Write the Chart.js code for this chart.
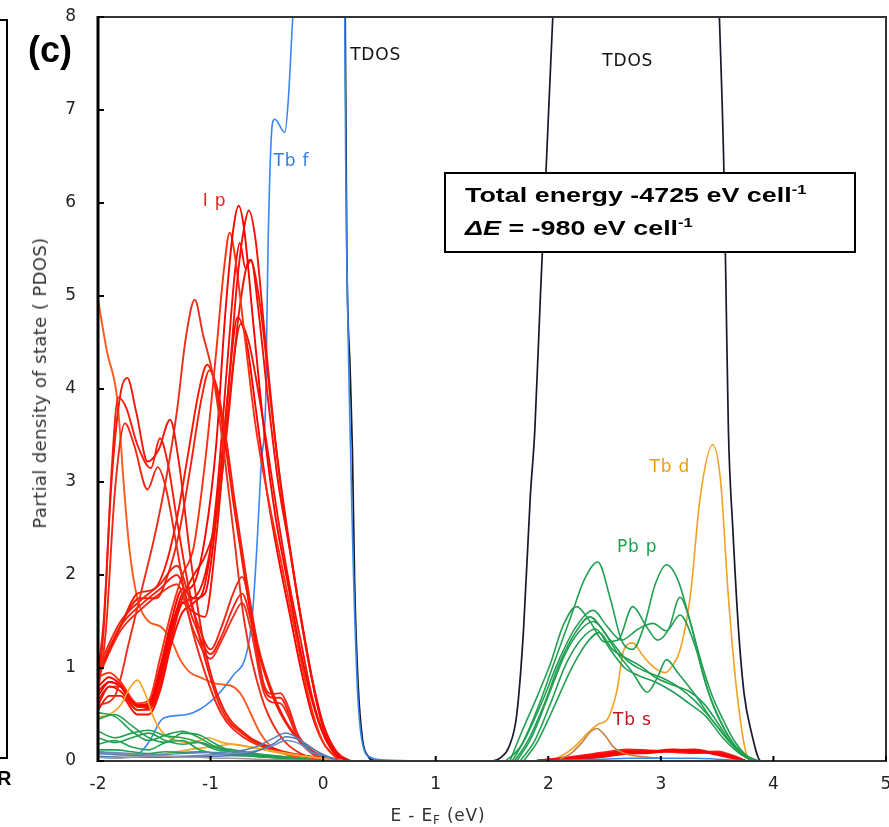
<!DOCTYPE html>
<html>
<head>
<meta charset="utf-8">
<script src="https://cdn.jsdelivr.net/npm/chart.js@4.4.1/dist/chart.umd.min.js"></script>
<style>
  html, body { margin: 0; padding: 0; background: #fff; }
  #wrap { position: relative; width: 889px; height: 827px; overflow: hidden; }
  #chart { position: absolute; left: 0; top: 0; }
  .txt { position: absolute; white-space: nowrap; font-family: "DejaVu Sans", sans-serif; color: #222; line-height: 1; }
  #leftPanel { position: absolute; left: -20px; top: 19px; width: 24px; height: 736px; border: 2px solid #000; }
  #letterR { left: -3px; top: 767px; font: bold 20px "Liberation Sans", Arial, sans-serif; color: #000; }
  #letterC { left: 28px; top: 29px; font: bold 36px "Liberation Sans", Arial, sans-serif; color: #000; }
  #titleY { left: 40px; top: 383px; font-size: 18px; letter-spacing: 0.4px; color: #333;
            transform: translate(-50%, -50%) rotate(-90deg); }
  #titleX { left: 438px; top: 815px; font-size: 17px; letter-spacing: 0.8px; color: #333;
            transform: translate(-50%, -50%); }
  #titleX sub { font-size: 12px; vertical-align: -3px; line-height: 0; }
  #box { position: absolute; left: 444px; top: 172px; width: 389px; height: 73px; padding: 4px 0 0 19px;
         border: 2px solid #000; background: #fff; color: #000;
         font: bold 21px "Liberation Sans", Arial, sans-serif; }
  #box div { height: 33px; line-height: 33px; white-space: nowrap; transform: scaleX(1.28); transform-origin: 0 50%; }
  #box sup { font-size: 13px; vertical-align: 8px; line-height: 0; }
</style>
</head>
<body>
<div id="wrap">
  <canvas id="chart" width="889" height="827"></canvas>
  <div id="leftPanel"></div>
  <div class="txt" id="letterR">R</div>
  <div class="txt" id="letterC">(c)</div>
  <div class="txt" id="titleY">Partial density of state ( PDOS)</div>
  <div class="txt" id="titleX">E - E<sub>F</sub> (eV)</div>
  <div id="box">
    <div>Total energy -4725 eV cell<sup>-1</sup></div>
    <div><i>ΔE</i> = -980 eV cell<sup>-1</sup></div>
  </div>
</div>

<script>
// ---- I p (red) ----
const ip1Energy = [-2, -1.95, -1.88, -1.8, -1.74, -1.66, -1.56, -1.46, -1.36, -1.28, -1.18, -1.05, -0.9, -0.7, -0.4, 0];
const ip1Pdos   = [0.95, 1.5, 3.0, 3.95, 4.12, 3.75, 3.22, 3.35, 3.67, 3.2, 2.2, 1.2, 0.6, 0.3, 0.12, 0.03];
const ip2Energy = [-2, -1.95, -1.88, -1.82, -1.75, -1.65, -1.53, -1.45, -1.38, -1.3, -1.2, -1.05, -0.9, -0.7, -0.4, 0];
const ip2Pdos   = [0.85, 1.4, 3.1, 3.91, 3.8, 3.4, 3.15, 3.47, 3.2, 2.6, 1.9, 1.1, 0.55, 0.28, 0.1, 0.02];
const ip3Energy = [-2, -1.93, -1.85, -1.76, -1.68, -1.56, -1.47, -1.4, -1.3, -1.2, -1.05, -0.9, -0.7, -0.4, 0];
const ip3Pdos   = [0.75, 1.4, 2.9, 3.63, 3.4, 2.92, 3.16, 2.95, 2.3, 1.6, 0.95, 0.5, 0.25, 0.1, 0.02];
const ip4Energy = [-2, -1.85, -1.72, -1.6, -1.5, -1.4, -1.3, -1.22, -1.14, -1.07, -0.98, -0.9, -0.8, -0.7, -0.55, -0.4, -0.2, 0.1];
const ip4Pdos   = [0.6, 0.7, 1.3, 1.9, 2.4, 3.0, 3.75, 4.55, 4.96, 4.6, 4.15, 3.5, 2.5, 1.5, 0.7, 0.3, 0.08, 0];
const ip5Energy = [-2, -1.8, -1.65, -1.5, -1.4, -1.3, -1.2, -1.1, -1.03, -0.96, -0.88, -0.8, -0.7, -0.6, -0.45, -0.3, -0.1, 0.15];
const ip5Pdos   = [0.95, 1.45, 1.8, 1.85, 2.1, 2.6, 3.3, 4.0, 4.26, 4.05, 3.5, 2.8, 2.0, 1.3, 0.7, 0.35, 0.1, 0];
const ip6Energy = [-2, -1.78, -1.63, -1.48, -1.38, -1.28, -1.18, -1.08, -1.01, -0.94, -0.86, -0.78, -0.68, -0.58, -0.43, -0.28, -0.08, 0.17];
const ip6Pdos   = [0.9, 1.5, 1.75, 1.75, 2.0, 2.45, 3.15, 3.9, 4.2, 4.0, 3.45, 2.75, 1.95, 1.25, 0.68, 0.33, 0.1, 0];
const ip7Energy = [-2, -1.9, -1.8, -1.65, -1.55, -1.45, -1.35, -1.25, -1.15, -1.05, -0.95, -0.87, -0.8, -0.75, -0.7, -0.62, -0.52, -0.42, -0.32, -0.22, -0.12, -0.02, 0.1, 0.22];
const ip7Pdos   = [0.7, 0.85, 0.8, 0.6, 0.6, 0.9, 1.4, 1.8, 1.9, 2.4, 3.4, 4.8, 5.7, 5.97, 5.7, 4.7, 3.5, 2.6, 1.95, 1.3, 0.75, 0.35, 0.08, 0];
const ip8Energy = [-2, -1.9, -1.8, -1.65, -1.55, -1.45, -1.35, -1.25, -1.15, -1.05, -0.95, -0.85, -0.76, -0.7, -0.66, -0.6, -0.52, -0.42, -0.32, -0.22, -0.12, 0, 0.12, 0.24];
const ip8Pdos   = [0.6, 0.8, 0.75, 0.55, 0.55, 0.8, 1.3, 1.7, 1.75, 2.0, 2.7, 3.9, 5.2, 5.75, 5.92, 5.6, 4.6, 3.4, 2.5, 1.7, 1.0, 0.35, 0.08, 0];
const ip9Energy = [-2, -1.9, -1.8, -1.65, -1.55, -1.45, -1.35, -1.25, -1.15, -1.05, -0.95, -0.88, -0.83, -0.78, -0.7, -0.6, -0.5, -0.4, -0.3, -0.2, -0.1, 0, 0.15];
const ip9Pdos   = [0.9, 0.95, 0.85, 0.62, 0.65, 1.1, 1.6, 2.0, 2.3, 3.2, 4.4, 5.3, 5.68, 5.4, 4.6, 3.6, 2.9, 2.3, 1.7, 1.1, 0.55, 0.2, 0];
const ip10Energy = [-2, -1.9, -1.8, -1.65, -1.55, -1.45, -1.35, -1.25, -1.15, -1.05, -0.95, -0.85, -0.78, -0.74, -0.69, -0.64, -0.58, -0.5, -0.4, -0.3, -0.2, -0.1, 0, 0.12, 0.24];
const ip10Pdos   = [0.55, 0.7, 0.7, 0.5, 0.5, 0.75, 1.25, 1.6, 1.7, 1.9, 2.8, 4.3, 5.3, 5.57, 5.3, 5.39, 4.9, 4.0, 3.0, 2.3, 1.55, 0.9, 0.4, 0.1, 0];
const ip11Energy = [-2, -1.9, -1.8, -1.65, -1.55, -1.45, -1.35, -1.25, -1.15, -1.05, -0.95, -0.85, -0.75, -0.65, -0.56, -0.46, -0.36, -0.26, -0.16, -0.06, 0.05, 0.2];
const ip11Pdos   = [0.65, 0.8, 0.8, 0.58, 0.58, 0.85, 1.35, 1.75, 2.0, 2.2, 2.6, 3.6, 4.8, 5.39, 4.9, 3.8, 2.8, 2.0, 1.3, 0.65, 0.22, 0];
const ip12Energy = [-2, -1.9, -1.8, -1.65, -1.55, -1.45, -1.35, -1.25, -1.15, -1.05, -0.95, -0.85, -0.76, -0.68, -0.6, -0.5, -0.4, -0.3, -0.2, -0.1, 0, 0.15];
const ip12Pdos   = [0.8, 0.9, 0.82, 0.6, 0.62, 1.0, 1.5, 1.85, 1.75, 1.8, 2.6, 3.9, 4.77, 4.5, 3.8, 2.9, 2.2, 1.6, 1.0, 0.5, 0.2, 0];
const ip13Energy = [-2, -1.9, -1.8, -1.65, -1.55, -1.45, -1.35, -1.25, -1.15, -1.05, -0.95, -0.85, -0.73, -0.66, -0.58, -0.5, -0.4, -0.3, -0.2, -0.1, 0, 0.12, 0.24];
const ip13Pdos   = [0.75, 0.85, 0.8, 0.55, 0.57, 0.95, 1.45, 1.7, 1.6, 1.55, 2.4, 3.7, 4.7, 4.5, 4.0, 3.4, 2.6, 1.9, 1.3, 0.7, 0.3, 0.07, 0];
const ipSmallEnergy = [-2, -1.8, -1.6, -1.45, -1.3, -1.15, -1.0, -0.9, -0.8, -0.72, -0.64, -0.53, -0.45, -0.38, -0.3, -0.23, -0.1, 0.05];
const ip14Pdos = [1.0, 1.5, 1.75, 1.9, 2.1, 1.6, 1.2, 1.45, 1.8, 1.98, 1.6, 0.84, 0.72, 0.73, 0.55, 0.3, 0.1, 0];
const ip15Pdos = [0.95, 1.45, 1.7, 1.85, 2.0, 1.5, 1.15, 1.35, 1.65, 1.8, 1.5, 0.8, 0.68, 0.68, 0.5, 0.28, 0.09, 0];
const ip16Pdos = [0.9, 1.4, 1.65, 1.8, 1.9, 1.4, 1.1, 1.3, 1.55, 1.7, 1.4, 0.75, 0.63, 0.62, 0.46, 0.25, 0.08, 0];
const ipOrangeEnergy = [-2, -1.92, -1.83, -1.76, -1.72, -1.65, -1.55, -1.45, -1.35, -1.27, -1.18, -1.09, -0.98, -0.88, -0.8, -0.72, -0.64, -0.56, -0.46, -0.35, -0.2, 0];
const ipOrangePdos   = [4.96, 4.4, 3.9, 2.8, 2.27, 1.75, 1.5, 1.45, 1.3, 1.09, 0.95, 0.9, 0.84, 0.82, 0.8, 0.7, 0.5, 0.3, 0.15, 0.08, 0.03, 0];

// ---- low bands below the Fermi level ----
const lowEnergy = [-2, -1.85, -1.7, -1.55, -1.4, -1.25, -1.1, -0.95, -0.8, -0.6, -0.3, 0];
const pbLow1 = [0.52, 0.48, 0.32, 0.22, 0.28, 0.32, 0.25, 0.15, 0.12, 0.08, 0.04, 0];
const pbLow2 = [0.45, 0.5, 0.38, 0.25, 0.2, 0.3, 0.28, 0.18, 0.1, 0.06, 0.02, 0];
const pbLow3 = [0.32, 0.25, 0.3, 0.33, 0.27, 0.25, 0.2, 0.12, 0.1, 0.07, 0.04, 0];
const pbLow4 = [0.25, 0.2, 0.25, 0.3, 0.22, 0.18, 0.2, 0.14, 0.1, 0.06, 0.03, 0];
const pbLow5 = [0.18, 0.22, 0.15, 0.12, 0.2, 0.22, 0.12, 0.08, 0.07, 0.05, 0.02, 0];
const pbLow6 = [0.12, 0.12, 0.1, 0.08, 0.1, 0.09, 0.1, 0.08, 0.06, 0.05, 0.03, 0];
const tbdLowEnergy = [-2, -1.9, -1.8, -1.72, -1.65, -1.58, -1.5, -1.42, -1.3, -1.2, -1.1, -1.02, -0.9, -0.75, -0.6, -0.45, -0.3, -0.1, 0.1];
const tbdLowPdos   = [0.47, 0.5, 0.6, 0.78, 0.87, 0.72, 0.45, 0.3, 0.22, 0.2, 0.22, 0.25, 0.2, 0.17, 0.14, 0.1, 0.07, 0.04, 0];
const tbdLow2Energy = [-2, -1.6, -1.4, -1.2, -0.95, -0.8, -0.6, -0.4, -0.2, 0, 0.2];
const tbdLow2Pdos   = [0.08, 0.06, 0.08, 0.12, 0.16, 0.18, 0.14, 0.1, 0.06, 0.03, 0];
const steelEnergy = [-2, -1.7, -1.4, -1.1, -0.8, -0.6, -0.45, -0.33, -0.2, -0.1, 0, 0.15];
const steel1 = [0.08, 0.06, 0.07, 0.09, 0.1, 0.15, 0.24, 0.3, 0.22, 0.1, 0.06, 0];
const steel2 = [0.05, 0.04, 0.04, 0.05, 0.06, 0.1, 0.18, 0.26, 0.22, 0.14, 0.07, 0];
const steel3 = [0.1, 0.08, 0.05, 0.06, 0.08, 0.11, 0.16, 0.22, 0.18, 0.09, 0.05, 0];
const grayLow = [0.04, 0.03, 0.04, 0.05, 0.05, 0.04, 0.04, 0.03, 0.03, 0.02, 0.01, 0];

// ---- Tb f and total DOS ----
const tbfEnergy = [-2, -1.85, -1.7, -1.64, -1.55, -1.42, -1.21, -0.98, -0.8, -0.68, -0.63, -0.59, -0.55, -0.51, -0.49, -0.45, -0.43, -0.34, -0.31, -0.27, -0.2, 0.1, 0.18, 0.2, 0.25, 0.3, 0.34, 0.42, 0.55, 1.0];
const tbfPdos   = [0.1, 0.08, 0.07, 0.08, 0.2, 0.46, 0.5, 0.66, 0.92, 1.16, 1.55, 2.27, 3.2, 3.9, 5.5, 6.86, 6.9, 6.76, 7.1, 8.0, 9.5, 12, 10, 6.5, 3.0, 0.9, 0.25, 0.04, 0.01, 0];
const tdosEnergy = [-2, 0.1, 0.18, 0.196, 0.21, 0.24, 0.26, 0.28, 0.31, 0.35, 0.4, 0.44, 0.6, 1.0, 1.4, 1.5, 1.58, 1.65, 1.72, 1.78, 1.84, 1.88, 1.93, 1.98, 2.04, 2.1, 2.3, 3.3, 3.48, 3.52, 3.56, 3.58, 3.6, 3.64, 3.69, 3.74, 3.8, 3.89, 4.0, 5];
const tdosValues = [20, 20, 12, 8, 5.5, 4.2, 3.34, 1.91, 0.84, 0.23, 0.05, 0.01, 0, 0, 0, 0, 0.04, 0.15, 0.5, 1.41, 2.84, 3.55, 5.0, 6.35, 8.0, 9.5, 12, 12, 9.5, 8.0, 6.35, 4.96, 3.56, 2.48, 1.41, 0.72, 0.33, 0, 0, 0];

// ---- conduction band side ----
const pb1Energy = [1.62, 1.75, 1.9, 2.05, 2.2, 2.32, 2.44, 2.55, 2.65, 2.75, 2.85, 2.95, 3.05, 3.15, 3.25, 3.35, 3.45, 3.55, 3.65, 3.75, 3.85];
const pb1Pdos   = [0, 0.15, 0.55, 1.05, 1.55, 1.95, 2.14, 1.75, 1.3, 1.2, 1.45, 1.9, 2.11, 1.95, 1.55, 1.1, 0.72, 0.45, 0.22, 0.07, 0];
const pb2Energy = [1.66, 1.77, 1.9, 2.02, 2.13, 2.25, 2.37, 2.5, 2.62, 2.75, 2.87, 2.97, 3.07, 3.17, 3.27, 3.37, 3.47, 3.57, 3.67, 3.77, 3.87];
const pb2Pdos   = [0, 0.33, 0.69, 1.05, 1.45, 1.66, 1.5, 1.28, 1.3, 1.66, 1.45, 1.3, 1.42, 1.76, 1.45, 0.95, 0.58, 0.33, 0.15, 0.05, 0];
const pb3Energy = [1.68, 1.8, 1.95, 2.1, 2.25, 2.4, 2.52, 2.65, 2.8, 2.93, 3.05, 3.17, 3.3, 3.42, 3.55, 3.68, 3.8];
const pb3Pdos   = [0, 0.25, 0.65, 1.1, 1.45, 1.62, 1.45, 1.3, 1.42, 1.48, 1.4, 1.57, 1.25, 0.75, 0.38, 0.12, 0];
const pb4Energy = [1.7, 1.82, 1.96, 2.1, 2.24, 2.37, 2.5, 2.62, 2.75, 2.88, 2.97, 3.05, 3.15, 3.3, 3.45, 3.6, 3.72, 3.82];
const pb4Pdos   = [0, 0.22, 0.6, 1.05, 1.38, 1.55, 1.38, 1.15, 0.95, 0.74, 0.9, 1.09, 0.95, 0.72, 0.45, 0.22, 0.07, 0];
const pb5Energy = [1.72, 1.85, 2.0, 2.15, 2.28, 2.4, 2.55, 2.7, 2.85, 3.0, 3.15, 3.3, 3.45, 3.6, 3.73, 3.85];
const pb5Pdos   = [0, 0.25, 0.7, 1.15, 1.4, 1.5, 1.3, 1.08, 0.97, 0.9, 0.8, 0.65, 0.45, 0.22, 0.07, 0];
const pb6Energy = [1.75, 1.88, 2.02, 2.16, 2.3, 2.42, 2.55, 2.68, 2.8, 2.95, 3.1, 3.25, 3.4, 3.55, 3.7, 3.82];
const pb6Pdos   = [0, 0.22, 0.62, 1.05, 1.32, 1.42, 1.2, 1.0, 0.92, 0.85, 0.75, 0.62, 0.48, 0.25, 0.08, 0];
const pb7Energy = [1.78, 1.9, 2.05, 2.2, 2.33, 2.45, 2.57, 2.7, 2.82, 2.95, 3.1, 3.25, 3.38, 3.5, 3.62, 3.75, 3.85];
const pb7Pdos   = [0, 0.2, 0.58, 0.98, 1.25, 1.38, 1.2, 1.1, 1.02, 0.9, 0.82, 0.75, 0.62, 0.42, 0.2, 0.05, 0];
const tbdEnergy = [1.9, 2.05, 2.23, 2.35, 2.45, 2.52, 2.61, 2.67, 2.75, 2.83, 2.9, 2.97, 3.04, 3.1, 3.17, 3.26, 3.35, 3.46, 3.53, 3.6, 3.68, 3.77, 3.85];
const tbdPdos   = [0, 0.02, 0.15, 0.3, 0.4, 0.44, 0.76, 1.19, 1.27, 1.15, 1.05, 0.98, 0.95, 1.02, 1.19, 1.76, 2.84, 3.40, 3.02, 1.76, 0.69, 0.05, 0];
const bumpEnergy = [2.1, 2.2, 2.3, 2.38, 2.43, 2.5, 2.58, 2.68, 2.8, 3.0];
const bumpPdos   = [0.02, 0.08, 0.2, 0.32, 0.35, 0.28, 0.15, 0.08, 0.05, 0.03];
const tbsEnergy = [1.9, 2.2, 2.5, 2.7, 2.9, 3.1, 3.3, 3.5, 3.65, 3.75];
const tbs1 = [0, 0.03, 0.07, 0.1, 0.1, 0.12, 0.1, 0.08, 0.04, 0];
const tbs2 = [0, 0.02, 0.05, 0.08, 0.09, 0.11, 0.12, 0.07, 0.03, 0];
const tbs3 = [0, 0.04, 0.09, 0.12, 0.11, 0.1, 0.09, 0.1, 0.05, 0];
const highBlue = [0, 0.01, 0.02, 0.03, 0.03, 0.03, 0.03, 0.02, 0.01, 0];
const baseEnergy = [-2, 4];
const baseValues = [0, 0];

const seriesLabels = [
  { text: 'TDOS', x: 0.24, y: 7.59, color: '#111' },
  { text: 'TDOS', x: 2.48, y: 7.52, color: '#111' },
  { text: 'Tb f', x: -0.44, y: 6.45, color: '#2f7fe8' },
  { text: 'I p', x: -1.07, y: 6.02, color: '#f01c1c' },
  { text: 'Tb d', x: 2.9, y: 3.16, color: '#f59a10' },
  { text: 'Pb p', x: 2.61, y: 2.3, color: '#1e9e4e' },
  { text: 'Tb s', x: 2.575, y: 0.43, color: '#c4141e' }
];

window.onload = function () {

    const canvas = document.getElementById('chart');

    function line(energy, pdos, color, width) {
        return {
            data: energy.map((e, i) => ({ x: e, y: pdos[i] })),
            borderColor: color,
            borderWidth: width || 1.9,
            pointRadius: 0,
            fill: false,
            cubicInterpolationMode: 'monotone'
        };
    }

    const green = '#22a052';
    const datasets = [
        line(lowEnergy, grayLow, '#9a9a9a', 1.5),
        line(steelEnergy, steel1, '#5a7fb5', 1.5),
        line(steelEnergy, steel2, '#4d74ad', 1.5),
        line(steelEnergy, steel3, '#6b8cc0', 1.5),
        line(lowEnergy, pbLow1, green, 1.6),
        line(lowEnergy, pbLow2, green, 1.6),
        line(lowEnergy, pbLow3, green, 1.6),
        line(lowEnergy, pbLow4, green, 1.6),
        line(lowEnergy, pbLow5, green, 1.6),
        line(lowEnergy, pbLow6, green, 1.6),
        line(tbdLow2Energy, tbdLow2Pdos, '#f2a62a', 1.6),
        line(tbdLowEnergy, tbdLowPdos, '#f5a020', 1.6),
        line(ip1Energy, ip1Pdos, '#f01a0a'),
        line(ip2Energy, ip2Pdos, '#ff1a0a'),
        line(ip3Energy, ip3Pdos, '#f02814'),
        line(ip4Energy, ip4Pdos, '#e8301a'),
        line(ip5Energy, ip5Pdos, '#ff1400'),
        line(ip6Energy, ip6Pdos, '#f52010'),
        line(ipSmallEnergy, ip14Pdos, '#e82a1a'),
        line(ipSmallEnergy, ip15Pdos, '#ff2010'),
        line(ipSmallEnergy, ip16Pdos, '#f0301e'),
        line(ip7Energy, ip7Pdos, '#ff0000'),
        line(ip8Energy, ip8Pdos, '#f81000'),
        line(ip9Energy, ip9Pdos, '#ff3010'),
        line(ip10Energy, ip10Pdos, '#ff0a00'),
        line(ip11Energy, ip11Pdos, '#f01808'),
        line(ip12Energy, ip12Pdos, '#ff0000'),
        line(ip13Energy, ip13Pdos, '#f21404'),
        line(ipOrangeEnergy, ipOrangePdos, '#ff5a1e'),
        line(tbfEnergy, tbfPdos, '#3a86f0', 1.6),
        line(tdosEnergy, tdosValues, '#151a28', 1.7),
        line(pb7Energy, pb7Pdos, green, 1.6),
        line(pb6Energy, pb6Pdos, green, 1.6),
        line(pb5Energy, pb5Pdos, green, 1.6),
        line(pb4Energy, pb4Pdos, green, 1.6),
        line(pb3Energy, pb3Pdos, green, 1.6),
        line(pb2Energy, pb2Pdos, green, 1.6),
        line(pb1Energy, pb1Pdos, green, 1.6),
        line(tbsEnergy, highBlue, '#3a86f0', 1.5),
        line(bumpEnergy, bumpPdos, '#c88040', 1.6),
        line(tbsEnergy, tbs1, '#ff0000', 2.6),
        line(tbsEnergy, tbs2, '#e81010', 2.6),
        line(tbsEnergy, tbs3, '#ff1a1a', 2.6),
        line(tbdEnergy, tbdPdos, '#f5a020', 1.6),
        line(baseEnergy, baseValues, '#8f9236', 2)
    ];

    // frame with inward tick marks, drawn over the lines
    const frame = {
        id: 'frame',
        afterDatasetsDraw(chart) {
            const { ctx, chartArea: a, scales } = chart;
            ctx.save();
            ctx.strokeStyle = '#333';
            ctx.lineWidth = 2;
            ctx.strokeRect(a.left, a.top, a.right - a.left, a.bottom - a.top);
            ctx.strokeStyle = '#000';
            ctx.lineWidth = 3;
            ctx.beginPath();
            ctx.moveTo(a.left, a.top - 1);
            ctx.lineTo(a.left, a.bottom + 1);
            ctx.stroke();
            ctx.lineWidth = 2;
            ctx.beginPath();
            scales.y.ticks.forEach(t => {
                const py = scales.y.getPixelForValue(t.value);
                ctx.moveTo(a.left, py);
                ctx.lineTo(a.left + 6, py);
            });
            scales.x.ticks.forEach(t => {
                const px = scales.x.getPixelForValue(t.value);
                ctx.moveTo(px, a.bottom);
                ctx.lineTo(px, a.bottom - 5);
            });
            ctx.stroke();
            ctx.restore();
        }
    };

    const labels = {
        id: 'labels',
        afterDatasetsDraw(chart) {
            const { ctx, scales } = chart;
            ctx.save();
            ctx.font = '17px "DejaVu Sans", sans-serif';
            ctx.letterSpacing = '0.8px';
            ctx.textAlign = 'left';
            ctx.textBaseline = 'middle';
            seriesLabels.forEach(l => {
                ctx.fillStyle = l.color;
                ctx.fillText(l.text, scales.x.getPixelForValue(l.x), scales.y.getPixelForValue(l.y));
            });
            ctx.restore();
        }
    };

    const tickFont = { family: '"DejaVu Sans", sans-serif', size: 17 };

    new Chart(canvas, {
        type: 'line',
        data: { datasets: datasets },
        options: {
            responsive: false,
            animation: false,
            devicePixelRatio: 1,
            layout: { padding: { top: 17, right: 3, left: 0, bottom: 0 } },
            plugins: { legend: { display: false }, tooltip: { enabled: false } },
            scales: {
                x: {
                    type: 'linear',
                    min: -2,
                    max: 5,
                    ticks: { stepSize: 1, autoSkip: false, maxRotation: 0, color: '#222', font: tickFont, padding: 13 },
                    grid: { display: false, drawTicks: false },
                    border: { display: false },
                    afterFit: s => { s.height = 66; s.paddingLeft = 0; s.paddingRight = 0; }
                },
                y: {
                    min: 0,
                    max: 8,
                    ticks: { stepSize: 1, color: '#222', font: tickFont, padding: 22 },
                    grid: { display: false, drawTicks: false },
                    border: { display: false },
                    afterFit: s => { s.width = 98; s.paddingTop = 0; s.paddingBottom = 0; }
                }
            }
        },
        plugins: [frame, labels]
    });

}
</script>
</body>
</html>
